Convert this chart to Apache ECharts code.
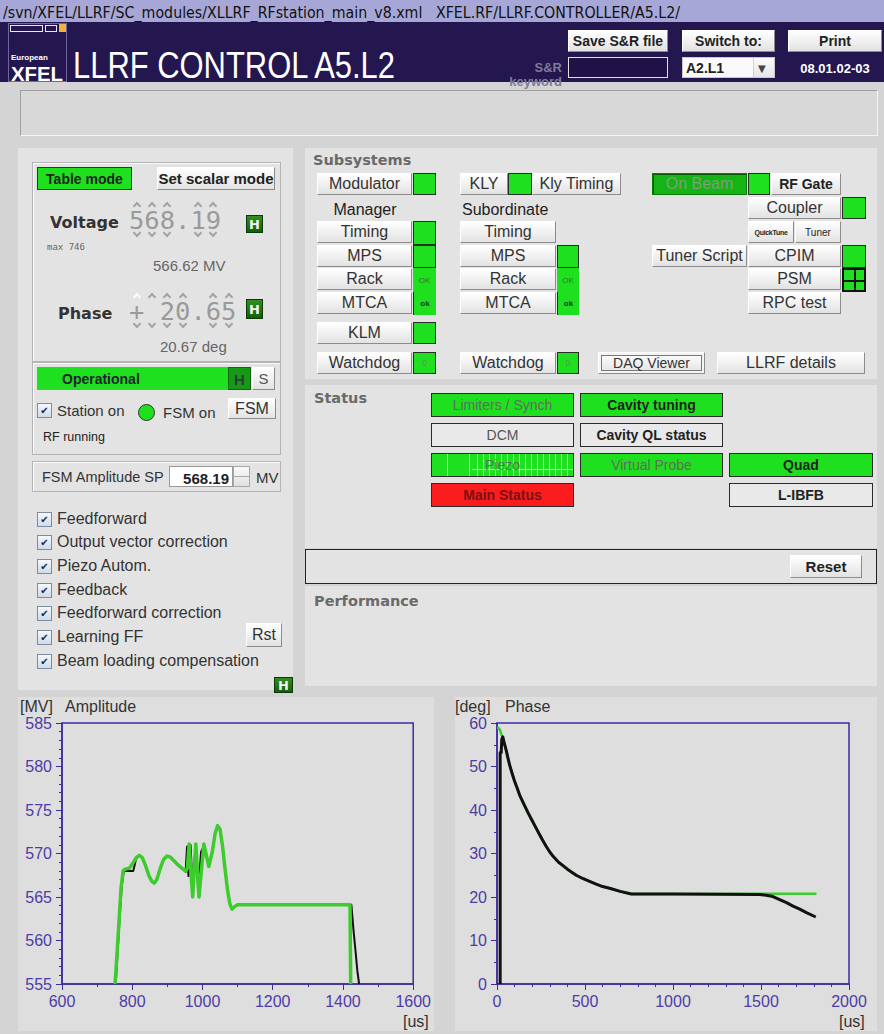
<!DOCTYPE html>
<html>
<head>
<meta charset="utf-8">
<title>LLRF CONTROL A5.L2</title>
<script src="https://cdn.jsdelivr.net/npm/echarts@6/dist/echarts.min.js"></script>
<style>
  body { margin: 0; background: #d4d4d4; font-family: "Liberation Sans", Arial, sans-serif; }
  #app { position: relative; width: 884px; height: 1034px; overflow: hidden; background: #d4d4d4; }
  .a { position: absolute; box-sizing: border-box; white-space: nowrap; }
  .t { position: absolute; white-space: nowrap; line-height: 1; }
  .panel { position: absolute; background: #e3e3e3; }
  .box { position: absolute; box-sizing: border-box; border: 1px solid #b4b4b4; box-shadow: inset 1px 1px 0 #fafafa; }
  .btn {
    position: absolute; box-sizing: border-box; display: flex; align-items: center; justify-content: center;
    background: linear-gradient(#ffffff, #e2e2e2); border: 1px solid; border-color: #fff #8c8c8c #8c8c8c #fff;
    font-size: 16px; color: #333; white-space: nowrap;
  }
  .b { font-weight: bold; font-size: 14px; color: #222; }
  .ind {
    position: absolute; box-sizing: border-box; background: #1fe01f; border: 1px solid #2b2b2b;
    display: flex; align-items: center; justify-content: center; font-size: 9px; color: #2a7a2a;
  }
  .hb {
    position: absolute; box-sizing: border-box; background: linear-gradient(#2f8f1f, #145e0c); border: 1px solid #0b3a06;
    color: #f2f2f2; font: bold 13px "DejaVu Sans", sans-serif; display: flex; align-items: center; justify-content: center;
  }
  .cell {
    position: absolute; box-sizing: border-box; border: 1px solid #2b2b2b; background: #1fe01f;
    display: flex; align-items: center; justify-content: center; font-size: 14px; color: #5d6f5d;
  }
  .cell.bold { font-weight: bold; color: #222; }
  .cell.off { background: #e9e9e9; }
  .hdr { font: bold 14.5px "DejaVu Sans", sans-serif; color: #6a6a6a; }
  .cb {
    position: absolute; box-sizing: border-box; width: 15px; height: 15px; border: 1px solid #7d8ca3;
    background: linear-gradient(#f4f8fb, #cfdbe6); font: 10px "DejaVu Sans", sans-serif; color: #1b2455;
    display: flex; align-items: center; justify-content: center;
  }
  .cbl { font-size: 16px; color: #333; }
  .mono { font-family: "DejaVu Sans Mono", monospace; color: #9a9a9a; }
  .up, .dn { position: absolute; width: 6px; height: 6px; box-sizing: border-box; border: 0 solid #a4a4a4; transform: rotate(45deg); }
  .up { border-top-width: 2px; border-left-width: 2px; }
  .dn { border-bottom-width: 2px; border-right-width: 2px; }
  .chart { position: absolute; background: #dedede; }
</style>
</head>
<body>
<div id="app">
  <!-- window path bar -->
  <div class="a" style="left:0;top:0;width:884px;height:22px;background:#a7a7d7;"></div>
  <div class="t" data-fit="677" style="left:3px;top:4px;font:15px 'DejaVu Sans',sans-serif;color:#111;">/svn/XFEL/LLRF/SC_modules/XLLRF_RFstation_main_v8.xml&nbsp;&nbsp;&nbsp;XFEL.RF/LLRF.CONTROLLER/A5.L2/</div>

  <!-- header -->
  <div class="a" style="left:0;top:22px;width:884px;height:60px;background:#24164f;"></div>
  <div class="a" style="left:8px;top:23px;width:59px;height:59px;border:1px solid #6f66a0;background:#24164f;"></div>
  <div class="a" style="left:10px;top:25px;width:33px;height:7px;border:1px solid #e8e8f0;"></div>
  <div class="a" style="left:45px;top:25px;width:12px;height:7px;border:1px solid #e8e8f0;"></div>
  <div class="a" style="left:59px;top:24px;width:7px;height:8px;background:#f2b43a;"></div>
  <div class="t" style="left:11px;top:53px;font:bold 8px 'Liberation Sans',sans-serif;color:#fff;">European</div>
  <div class="t" data-fit="52" style="left:11px;top:62px;font:bold 21px 'Liberation Sans',sans-serif;color:#fff;">XFEL</div>
  <div class="t" data-fit="322" style="left:73px;top:45px;font:36px 'Liberation Sans',sans-serif;color:#fff;">LLRF CONTROL A5.L2</div>

  <div class="t" style="left:500px;top:60px;width:62px;text-align:right;font:bold 13px 'Liberation Sans',sans-serif;color:#7d7a9c;">S&amp;R</div>
  <div class="t" style="left:490px;top:74px;width:72px;text-align:right;font:bold 13px 'Liberation Sans',sans-serif;color:#7d7a9c;">keyword</div>
  <div class="a" style="left:568px;top:57px;width:100px;height:21px;background:#1e1248;border:1px solid #e0e0e0;"></div>
  <div class="btn b" style="left:568px;top:30px;width:100px;height:22px;">Save S&amp;R file</div>
  <div class="btn b" style="left:682px;top:30px;width:93px;height:22px;">Switch to:</div>
  <div class="btn b" style="left:788px;top:30px;width:94px;height:22px;">Print</div>
  <div class="a" style="left:682px;top:57px;width:93px;height:21px;background:#fafafa;border:1px solid #c8c8c8;"></div>
  <div class="t b" style="left:686px;top:61px;">A2.L1</div>
  <div class="a" style="left:753px;top:58px;width:21px;height:19px;background:linear-gradient(#fafafa,#e6e6e6);border-left:1px solid #d0d0d0;"></div>
  <div class="t" style="left:758px;top:63px;font:10px 'DejaVu Sans',sans-serif;color:#444;">▼</div>
  <div class="t" style="left:795px;top:61px;width:80px;text-align:center;font:bold 13px 'Liberation Sans',sans-serif;color:#fff;">08.01.02-03</div>

  <!-- message strip -->
  <div class="a" style="left:20px;top:90px;width:858px;height:46px;background:#d8d8d8;border:1px solid;border-color:#a0a0a0 #f4f4f4 #f4f4f4 #a0a0a0;"></div>

  <!-- left panel -->
  <div class="panel" style="left:18px;top:148px;width:275px;height:542px;"></div>
  <div class="box" style="left:32px;top:162px;width:249px;height:200px;"></div>
  <div class="a" style="left:37px;top:167px;width:95px;height:23px;background:#1fe01f;border:1px solid #333;"></div>
  <div class="t b" style="left:37px;top:172px;width:95px;text-align:center;font-size:14px;">Table mode</div>
  <div class="btn b" style="left:157px;top:167px;width:118px;height:23px;font-size:15px;">Set scalar mode</div>

  <div class="t" style="left:50px;top:213px;font:bold 16px 'DejaVu Sans',sans-serif;color:#333;">Voltage</div>
  <div class="t" style="left:47px;top:242px;font:9px 'DejaVu Sans Mono',monospace;color:#666;">max 746</div>
  <div class="t mono" style="left:129px;top:208px;font-size:25.5px;">568.19</div>
  <div id="wheels"></div>
  <div class="hb" style="left:246px;top:215px;width:17px;height:18px;">H</div>
  <div class="t" style="left:153px;top:258px;font-size:15px;color:#666;">566.62 MV</div>

  <div class="t" style="left:58px;top:304px;font:bold 16px 'DejaVu Sans',sans-serif;color:#333;">Phase</div>
  <div class="t mono" style="left:129px;top:299px;font-size:25.5px;">+ 20.65</div>
  <div class="hb" style="left:246px;top:299px;width:17px;height:20px;">H</div>
  <div class="t" style="left:160px;top:339px;font-size:15px;color:#666;">20.67 deg</div>

  <div class="box" style="left:32px;top:362px;width:249px;height:93px;"></div>
  <div class="a" style="left:37px;top:367px;width:191px;height:23px;background:#1fe01f;"></div>
  <div class="t b" style="left:62px;top:372px;color:#223;">Operational</div>
  <div class="a" style="left:228px;top:367px;width:23px;height:23px;background:#169a16;border:1px solid #0f6a0f;"></div>
  <div class="t" style="left:228px;top:371px;width:23px;text-align:center;font:bold 15px 'Liberation Sans',sans-serif;color:#2e3a40;">H</div>
  <div class="btn" style="left:252px;top:367px;width:23px;height:23px;font-size:15px;color:#555;">S</div>
  <div class="cb" style="left:37px;top:403px;">✔</div>
  <div class="t" style="left:57px;top:403px;font-size:15px;color:#333;">Station on</div>
  <div class="a" style="left:138px;top:404px;width:17px;height:17px;border-radius:50%;background:#1fe01f;border:1.5px solid #333;"></div>
  <div class="t" style="left:163px;top:405px;font-size:15px;color:#333;">FSM on</div>
  <div class="btn" style="left:228px;top:398px;width:48px;height:21px;">FSM</div>
  <div class="t" style="left:43px;top:431px;font-size:12.5px;color:#222;">RF running</div>

  <div class="box" style="left:32px;top:461px;width:249px;height:31px;"></div>
  <div class="t" style="left:42px;top:470px;font-size:14.5px;color:#333;">FSM Amplitude SP</div>
  <div class="a" style="left:169px;top:466px;width:64px;height:21px;background:#fff;border:1px solid #9a9a9a;"></div>
  <div class="t" style="left:171px;top:470px;width:58px;text-align:right;font:bold 15px 'Liberation Sans',sans-serif;color:#222;">568.19</div>
  <div class="a" style="left:233px;top:466px;width:17px;height:21px;background:linear-gradient(#fafafa,#e0e0e0);border:1px solid #a8a8a8;"></div>
  <div class="a" style="left:234px;top:476px;width:15px;height:1px;background:#a8a8a8;"></div>
  <div class="t" style="left:256px;top:470px;font-size:15px;color:#333;">MV</div>

  <div id="cbList"></div>
  <div class="btn" style="left:246px;top:623px;width:36px;height:24px;">Rst</div>
  <div class="hb" style="left:274px;top:677px;width:19px;height:16px;">H</div>

  <!-- subsystems -->
  <div class="panel" style="left:305px;top:148px;width:572px;height:231px;"></div>
  <div class="t hdr" style="left:313px;top:152px;">Subsystems</div>
  <div id="subsys"></div>

  <!-- status -->
  <div class="panel" style="left:305px;top:385px;width:572px;height:163px;"></div>
  <div class="t hdr" style="left:314px;top:390px;">Status</div>
  <div class="cell" style="left:431px;top:393px;width:143px;height:24px;">Limiters / Synch</div>
  <div class="cell bold" style="left:580px;top:393px;width:143px;height:24px;">Cavity tuning</div>
  <div class="cell off" style="left:431px;top:423px;width:143px;height:24px;color:#555;">DCM</div>
  <div class="cell off bold" style="left:580px;top:423px;width:143px;height:24px;">Cavity QL status</div>
  <div class="cell" style="left:431px;top:453px;width:143px;height:24px;background:
      linear-gradient(90deg, transparent 15px, rgba(255,255,255,.85) 15px, rgba(255,255,255,.85) 16px, transparent 16px, transparent 37px, rgba(255,255,255,.85) 37px, rgba(255,255,255,.85) 38px, transparent 38px),
      repeating-linear-gradient(90deg, transparent 0 5px, rgba(255,255,255,.7) 5px 6px) 40px 0 / 103px 100% no-repeat,
      linear-gradient(transparent 15px, rgba(255,255,255,.7) 15px, rgba(255,255,255,.7) 16px, transparent 16px) 40px 0 / 103px 100% no-repeat,
      #1fe01f;">Piezo</div>
  <div class="cell" style="left:580px;top:453px;width:143px;height:24px;">Virtual Probe</div>
  <div class="cell bold" style="left:729px;top:453px;width:144px;height:24px;">Quad</div>
  <div class="cell bold" style="left:431px;top:483px;width:143px;height:24px;background:#fb1d1d;color:#7a1212;">Main Status</div>
  <div class="cell off bold" style="left:729px;top:483px;width:144px;height:24px;">L-IBFB</div>

  <div class="a" style="left:305px;top:549px;width:572px;height:35px;background:#e3e3e3;border:1.5px solid #222;"></div>
  <div class="btn b" style="left:790px;top:555px;width:72px;height:23px;font-size:15px;">Reset</div>

  <!-- performance -->
  <div class="panel" style="left:305px;top:586px;width:572px;height:100px;"></div>
  <div class="t hdr" style="left:314px;top:593px;">Performance</div>

  <!-- scopes -->
  <div id="ampChart" class="chart" style="left:18px;top:697px;width:416px;height:334px;"></div>
  <div id="phaseChart" class="chart" style="left:455px;top:697px;width:422px;height:334px;"></div>
</div>

<script>
// amplitude trace, green = set point, black = probe
const ampRefT = [751, 756, 762, 768, 774, 780, 792, 802, 811, 820, 829, 838, 847, 856, 863, 870, 879, 889, 899, 908, 918, 930, 942, 952, 957, 962, 972, 981, 990, 1004, 1018, 1028, 1036, 1043, 1050, 1057, 1064, 1071, 1078, 1084, 1092, 1100, 1300, 1420, 1422]
const ampRefV = [555, 558, 562, 566, 568.0, 568.2, 568.3, 568.9, 569.5, 569.8, 569.5, 568.6, 567.5, 566.8, 566.6, 567.0, 568.2, 569.3, 569.7, 569.6, 569.2, 568.7, 568.3, 568.0, 568.3, 571.1, 565.0, 571.1, 565.0, 571.1, 568.5, 570.2, 572.3, 573.2, 572.8, 570.9, 568.3, 565.9, 564.2, 563.6, 563.9, 564.1, 564.1, 564.1, 555]
const ampMeasT = [753, 758, 764, 770, 776, 790, 803, 811, 820, 829, 838, 847, 856, 863, 870, 879, 889, 899, 908, 918, 930, 942, 952, 956, 960, 966, 972, 980, 988, 996, 1004, 1018, 1028, 1036, 1043, 1050, 1057, 1064, 1071, 1078, 1084, 1092, 1100, 1300, 1424, 1430, 1436, 1441, 1446]
const ampMeasV = [555, 558.5, 562.5, 566.2, 568.0, 568.0, 568.0, 569.4, 569.8, 569.5, 568.6, 567.5, 566.8, 566.6, 567.0, 568.2, 569.3, 569.7, 569.6, 569.2, 568.7, 568.3, 567.9, 570.8, 567.4, 571.0, 566.0, 570.6, 565.8, 570.2, 570.8, 568.6, 570.2, 572.3, 573.1, 572.8, 570.9, 568.3, 565.9, 564.2, 563.7, 563.9, 564.1, 564.1, 564.1, 561.2, 558.7, 556.5, 555]

// phase trace
const phaseRefT = [0, 8, 16, 26, 34, 40, 53, 62, 72, 86, 100, 115, 130, 150, 176, 198, 220, 240, 260, 280, 299, 320, 350, 375, 400, 425, 450, 490, 526, 560, 600, 640, 700, 763, 1000, 1480, 1815]
const phaseRefV = [58.9, 58.9, 58.5, 57.3, 56.4, 55.6, 53.6, 52.0, 50.3, 48.4, 46.6, 45.0, 43.3, 41.6, 39.4, 37.7, 36.0, 34.5, 33.0, 31.6, 30.4, 29.3, 28.0, 27.2, 26.4, 25.7, 25.0, 24.2, 23.6, 23.0, 22.4, 22.0, 21.3, 20.7, 20.7, 20.75, 20.75]
const phaseMeasT = [18, 18, 24, 27, 33, 40, 53, 62, 72, 86, 100, 115, 130, 150, 176, 198, 220, 240, 260, 280, 299, 320, 350, 375, 400, 425, 450, 490, 526, 560, 600, 640, 700, 763, 1000, 1492, 1530, 1568, 1606, 1645, 1682, 1720, 1758, 1811]
const phaseMeasV = [0, 53.2, 53.2, 56.2, 56.8, 55.6, 53.6, 52.0, 50.3, 48.4, 46.6, 45.0, 43.3, 41.6, 39.4, 37.7, 36.0, 34.5, 33.0, 31.6, 30.4, 29.3, 28.0, 27.2, 26.4, 25.7, 25.0, 24.2, 23.6, 23.0, 22.4, 22.0, 21.3, 20.7, 20.7, 20.6, 20.4, 20.1, 19.4, 18.7, 17.9, 17.2, 16.4, 15.4]

// axis ranges
const ampX = { min: 600, max: 1600, interval: 200, minor: 2 }
const ampY = { min: 555, max: 585, interval: 5, minor: 5 }
const phaseX = { min: 0, max: 2000, interval: 500, minor: 5 }
const phaseY = { min: 0, max: 60, interval: 10, minor: 2 }

// panel widgets
const checkLabels = ['Feedforward', 'Output vector correction', 'Piezo Autom.', 'Feedback', 'Feedforward correction', 'Learning FF', 'Beam loading compensation']
const checkRows = [519, 542, 566, 590, 613, 637, 661]

const AXIS = '#3d2c9c'
const LABEL = '#4c3ca6'
const GREEN = '#3ccc2c'

function el(parent, cls, style, text) {
  const d = document.createElement('div')
  d.className = cls
  d.setAttribute('style', style)
  if (text !== undefined) d.textContent = text
  parent.appendChild(d)
  return d
}

// up/down chevrons around the digit wheels
const wheels = document.getElementById('wheels')
const colW = 15.35
;[0, 1, 2, 4, 5].forEach(c => {
  const x = 129 + c * colW + 4.7
  el(wheels, 'up', `left:${x}px;top:203px;`)
  el(wheels, 'dn', `left:${x}px;top:230px;`)
})
;[0, 1, 2, 3, 5, 6].forEach(c => {
  const x = 129 + c * colW + 4.7
  el(wheels, 'up', `left:${x}px;top:294px;${c === 0 ? 'border-color:#fafafa;' : ''}`)
  el(wheels, 'dn', `left:${x}px;top:321px;`)
})

const cbl = document.getElementById('cbList')
checkLabels.forEach((txt, i) => {
  el(cbl, 'cb', `left:37px;top:${checkRows[i] - 7}px;`, '✔')
  el(cbl, 't cbl', `left:57px;top:${checkRows[i] - 8}px;`, txt)
})

// subsystem buttons: [label, x, y, w]
const sub = document.getElementById('subsys')
const btns = [
  ['Modulator', 317, 173, 95], ['KLY', 460, 173, 48], ['Kly Timing', 532, 173, 89],
  ['Timing', 317, 221, 95], ['MPS', 317, 245, 95], ['Rack', 317, 268, 95], ['MTCA', 317, 292, 95],
  ['KLM', 317, 322, 95], ['Watchdog', 317, 352, 95],
  ['Timing', 460, 221, 96], ['MPS', 460, 245, 96], ['Rack', 460, 268, 96], ['MTCA', 460, 292, 96],
  ['Watchdog', 460, 352, 96],
  ['Coupler', 748, 197, 93], ['Tuner Script', 652, 245, 95], ['CPIM', 748, 245, 93],
  ['PSM', 748, 268, 93], ['RPC test', 748, 292, 93], ['LLRF details', 717, 352, 148]
]
btns.forEach(([t, x, y, w]) => el(sub, 'btn', `left:${x}px;top:${y}px;width:${w}px;height:22px;`, t))
el(sub, 'btn b', 'left:771px;top:173px;width:70px;height:22px;', 'RF Gate')
el(sub, 'btn b', 'left:748px;top:221px;width:46px;height:22px;font-size:7px;letter-spacing:-0.3px;', 'QuickTune')
el(sub, 'btn b', 'left:795px;top:221px;width:46px;height:22px;font-size:10px;font-weight:normal;', 'Tuner')
el(sub, 'btn', 'left:598px;top:352px;width:107px;height:22px;font-size:14px;box-shadow:inset 0 0 0 2px #f4f4f4, inset 0 0 0 3px #777;', 'DAQ Viewer')
el(sub, 'a', 'left:652px;top:173px;width:95px;height:22px;background:#14b414;border:1px solid #0d7a0d;box-shadow:inset 1px 1px 0 #0a5a0a;color:#7e9e7e;font-size:16px;display:flex;align-items:center;justify-content:center;', 'On Beam')
el(sub, 't', 'left:320px;top:202px;width:90px;text-align:center;font-size:16px;color:#222;', 'Manager')
el(sub, 't', 'left:462px;top:202px;font-size:16px;color:#222;', 'Subordinate')

// status lamps: [x, y, w, h, text, style]
const lamps = [
  [413, 173, 23, 22, ''], [508, 173, 24, 22, ''], [748, 173, 22, 22, ''],
  [413, 221, 23, 24, ''], [413, 245, 23, 23, ''],
  [413, 268, 23, 24, 'OK', 'border:none;font-size:8px;'],
  [413, 292, 23, 23, 'ok', 'border:none;border-left:1px solid #2b2b2b;font-size:8px;font-weight:bold;color:#234;'],
  [413, 322, 23, 22, ''], [413, 352, 23, 22, '0', 'color:#6a8a6a;'],
  [557, 245, 22, 23, ''],
  [557, 268, 22, 24, 'OK', 'border:none;font-size:8px;'],
  [557, 292, 22, 23, 'ok', 'border:none;border-left:1px solid #2b2b2b;font-size:8px;font-weight:bold;color:#234;'],
  [557, 352, 22, 22, '0', 'color:#6a8a6a;'],
  [842, 197, 24, 22, ''], [842, 245, 24, 23, '']
]
lamps.forEach(([x, y, w, h, t, s]) => el(sub, 'ind', `left:${x}px;top:${y}px;width:${w}px;height:${h}px;${s || ''}`, t))
// PSM lamp split into four
el(sub, 'ind', 'left:842px;top:268px;width:24px;height:24px;background:' +
  'linear-gradient(90deg, transparent 10px, #111 10px, #111 12px, transparent 12px),' +
  'linear-gradient(transparent 10px, #111 10px, #111 12px, transparent 12px), #1fe01f;border:2px solid #111;')

// squeeze wide labels to the width seen on screen
document.querySelectorAll('[data-fit]').forEach(n => {
  const w = n.getBoundingClientRect().width
  n.style.transformOrigin = 'left top'
  n.style.transform = `scaleX(${+n.dataset.fit / w})`
})

function pairs(t, v) {
  return t.map((x, i) => [x, v[i]])
}

function scopeOption(cfg) {
  const font = '"Liberation Sans", Arial, sans-serif'
  const axisCommon = {
    type: 'value',
    axisLine: { show: true, onZero: false, lineStyle: { color: AXIS, width: 1.5 } },
    axisTick: { show: true, length: 6, lineStyle: { color: AXIS, width: 1 } },
    splitLine: { show: false },
    axisLabel: { color: LABEL, fontSize: 16, fontFamily: font, formatter: v => String(v) }
  }
  const txt = (left, top, text) => ({
    type: 'text', left, top,
    style: { text, fill: '#333', font: `16px ${font}`, lineHeight: 16 }
  })
  return {
    animation: false,
    backgroundColor: '#dedede',
    grid: {
      left: cfg.left, top: 26, width: 352, height: 261,
      show: true, borderColor: AXIS, borderWidth: 1.5, backgroundColor: 'transparent'
    },
    xAxis: {
      ...axisCommon,
      min: cfg.x.min, max: cfg.x.max, interval: cfg.x.interval,
      minorTick: { show: true, splitNumber: cfg.x.minor, length: 3, lineStyle: { color: AXIS } },
      axisLabel: { ...axisCommon.axisLabel, margin: 9 }
    },
    yAxis: {
      ...axisCommon,
      min: cfg.y.min, max: cfg.y.max, interval: cfg.y.interval,
      minorTick: { show: true, splitNumber: cfg.y.minor, length: 3, lineStyle: { color: AXIS } },
      axisLabel: { ...axisCommon.axisLabel, margin: 10 }
    },
    graphic: [
      txt(cfg.unitLeft, 1, cfg.unit),
      txt(cfg.titleLeft, 1, cfg.title),
      txt(cfg.usLeft, 316, '[us]')
    ],
    series: cfg.series.map(s => ({
      type: 'line',
      data: s.data,
      showSymbol: false,
      clip: true,
      z: s.z,
      lineStyle: { color: s.color, width: s.width, join: 'round' }
    }))
  }
}

const ampChart = echarts.init(document.getElementById('ampChart'), null, { renderer: 'svg' })
ampChart.setOption(scopeOption({
  left: 44, x: ampX, y: ampY,
  unit: '[MV]', unitLeft: 2, title: 'Amplitude', titleLeft: 47, usLeft: 385,
  series: [
    { data: pairs(ampMeasT, ampMeasV), color: '#111', width: 2, z: 2 },
    { data: pairs(ampRefT, ampRefV), color: GREEN, width: 3.5, z: 3 }
  ]
}))

const phaseChart = echarts.init(document.getElementById('phaseChart'), null, { renderer: 'svg' })
phaseChart.setOption(scopeOption({
  left: 42, x: phaseX, y: phaseY,
  unit: '[deg]', unitLeft: 0, title: 'Phase', titleLeft: 50, usLeft: 384,
  series: [
    { data: pairs(phaseRefT, phaseRefV), color: GREEN, width: 2.5, z: 2 },
    { data: pairs(phaseMeasT, phaseMeasV), color: '#111', width: 3, z: 3 }
  ]
}))
</script>
</body>
</html>
